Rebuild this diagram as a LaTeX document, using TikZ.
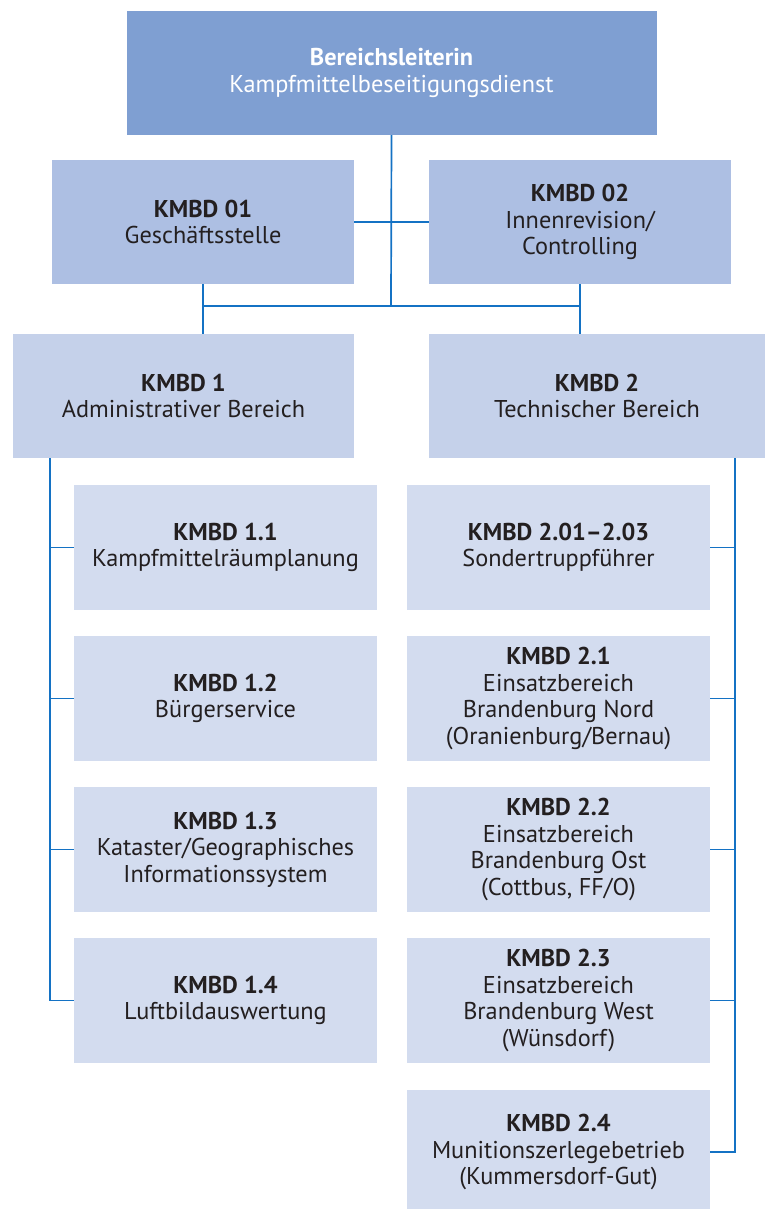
\documentclass[tikz,border=0pt]{standalone}
\usepackage{fontspec}
\setmainfont{PT Sans}
\usetikzlibrary{calc}

\definecolor{leitung}{RGB}{127,159,210}
\definecolor{stab}{RGB}{173,191,227}
\definecolor{bereich}{RGB}{197,209,234}
\definecolor{gruppe}{RGB}{211,220,239}
\definecolor{linie}{RGB}{20,114,196}
\definecolor{schrift}{RGB}{35,31,32}

\begin{document}
\begin{tikzpicture}[x=1pt, y=-1pt]
	\tikzset{comp/.style={
		rectangle, inner sep=0pt, align=center, text=schrift,
		font=\fontsize{24.3}{26.4}\selectfont
	}}
	\tikzset{box_top/.style={
		comp, fill=leitung, text=white, minimum width=530pt, minimum height=124pt
	}}
	\tikzset{box_staff/.style={
		comp, fill=stab, minimum width=302pt, minimum height=124pt
	}}
	\tikzset{box_area/.style={
		comp, fill=bereich, minimum height=124pt
	}}
	\tikzset{box_unit/.style={
		comp, fill=gruppe, minimum width=303pt, minimum height=125pt
	}}
	\tikzset{conn/.style={
		draw=linie, line width=1.7pt
	}}

	\useasboundingbox (0,0) rectangle (765,1209);

	% Leitung
	\node (BL) [box_top] at (391.5,73) {\textbf{Bereichsleiterin}\\Kampfmittelbeseitigungsdienst};

	% Stabsstellen
	\node (K01) [box_staff] at (203,222) {\textbf{KMBD 01}\\Geschäftsstelle};
	\node (K02) [box_staff] at (580,222) {\textbf{KMBD 02}\\Innenrevision/\\Controlling};

	% Bereiche
	\node (K1) [box_area, minimum width=341pt] at (183.5,396) {\textbf{KMBD 1}\\Administrativer Bereich};
	\node (K2) [box_area, minimum width=336pt] at (597,396) {\textbf{KMBD 2}\\Technischer Bereich};

	% Bereich 1 links
	\node (K11) [box_unit] at (225.5,547.5) {\textbf{KMBD 1.1}\\Kampfmittelräumplanung};
	\node (K12) [box_unit] at (225.5,698.5) {\textbf{KMBD 1.2}\\Bürgerservice};
	\node (K13) [box_unit] at (225.5,849.5) {\textbf{KMBD 1.3}\\Kataster/Geographisches\\Informationssystem};
	\node (K14) [box_unit] at (225.5,1000.5) {\textbf{KMBD 1.4}\\Luftbildauswertung};

	% Bereich 2 rechts
	\node (K201) [box_unit] at (558.5,547.5) {\textbf{KMBD 2.01–2.03}\\Sondertruppführer};
	\node (K21) [box_unit] at (558.5,698.5) {\textbf{KMBD 2.1}\\Einsatzbereich\\Brandenburg Nord\\(Oranienburg/Bernau)};
	\node (K22) [box_unit] at (558.5,849.5) {\textbf{KMBD 2.2}\\Einsatzbereich\\Brandenburg Ost\\(Cottbus, FF/O)};
	\node (K23) [box_unit] at (558.5,1000.5) {\textbf{KMBD 2.3}\\Einsatzbereich\\Brandenburg West\\(Wünsdorf)};
	\node (K24) [box_unit] at (558.5,1152) {\textbf{KMBD 2.4}\\Munitionszerlegebetrieb\\(Kummersdorf-Gut)};

	% Hilfspunkte
	\coordinate (bar) at (391,306);
	\coordinate (trunkL) at (50,458);
	\coordinate (trunkR) at (735,458);

	% Leitung -> Stab / Bereiche
	\draw[conn] (BL.south) -- (bar);
	\draw[conn] (K01.east) -- (K02.west);
	\draw[conn] (K01.south) -- (K01.south |- K1.north);
	\draw[conn] (K02.south) -- (K02.south |- K2.north);
	\draw[conn] (K01.south |- bar) -- (K02.south |- bar);

	% Bereich 1
	\draw[conn] (trunkL) |- (K14.west);
	\foreach \n in {K11,K12,K13}
		\draw[conn] (trunkL |- \n.west) -- (\n.west);

	% Bereich 2
	\draw[conn] (trunkR) |- (K24.east);
	\foreach \n in {K201,K21,K22,K23}
		\draw[conn] (trunkR |- \n.east) -- (\n.east);
\end{tikzpicture}
\end{document}
